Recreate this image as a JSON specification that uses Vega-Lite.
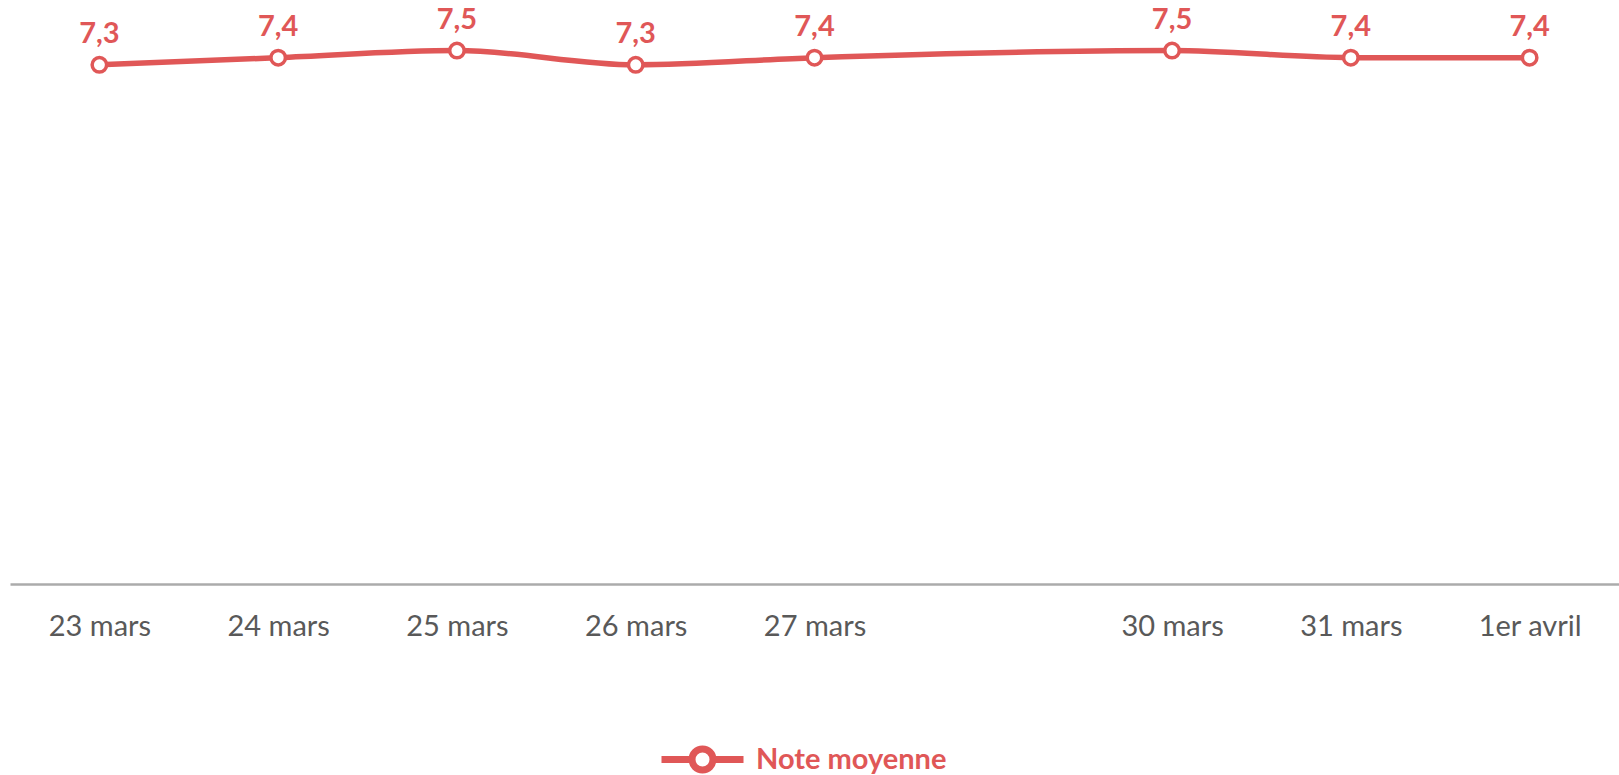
{
  "$schema": "https://vega.github.io/schema/vega-lite/v6.json",
  "autosize": "none",
  "width": 1609,
  "height": 569,
  "padding": {"left": 10, "top": 15, "right": 0, "bottom": 191},
  "background": "white",
  "config": {
    "view": {"stroke": null},
    "font": "Lato",
    "locale": {"number": {"decimal": ",", "thousands": " ", "grouping": [3], "currency": ["", " €"]}}
  },
  "data": {
    "values": [
      {"jour": "23 mars", "note": 7.3, "serie": "Note moyenne"},
      {"jour": "24 mars", "note": 7.4, "serie": "Note moyenne"},
      {"jour": "25 mars", "note": 7.5, "serie": "Note moyenne"},
      {"jour": "26 mars", "note": 7.3, "serie": "Note moyenne"},
      {"jour": "27 mars", "note": 7.4, "serie": "Note moyenne"},
      {"jour": "30 mars", "note": 7.5, "serie": "Note moyenne"},
      {"jour": "31 mars", "note": 7.4, "serie": "Note moyenne"},
      {"jour": "1er avril", "note": 7.4, "serie": "Note moyenne"}
    ]
  },
  "encoding": {
    "x": {
      "field": "jour",
      "type": "ordinal",
      "scale": {"domain": ["23 mars", "24 mars", "25 mars", "26 mars", "27 mars", " ", "30 mars", "31 mars", "1er avril"], "padding": 0.5},
      "axis": {
        "title": null,
        "labelAngle": 0,
        "ticks": false,
        "tickSize": 0,
        "domainColor": "#ABABAB",
        "domainWidth": 2.5,
        "labelColor": "#595959",
        "labelFont": "Lato",
        "labelFontSize": 29,
        "labelBaseline": "alphabetic",
        "labelPadding": 51,
        "grid": false
      }
    },
    "y": {
      "field": "note",
      "type": "quantitative",
      "scale": {"domain": [0, 8], "nice": false},
      "axis": null
    }
  },
  "layer": [
    {
      "mark": {"type": "line", "strokeWidth": 5.5, "interpolate": "monotone"},
      "encoding": {
        "color": {
          "field": "serie",
          "type": "nominal",
          "scale": {"range": ["#E05757"]},
          "legend": {
            "title": null,
            "orient": "none",
            "legendX": 678,
            "legendY": 730,
            "padding": 0,
            "symbolType": "M-5.125,0H-1.31M1.31,0H5.125M-1.31,0A1.31,1.31,0,1,0,1.31,0A1.31,1.31,0,1,0,-1.31,0",
            "symbolSize": 256,
            "symbolStrokeWidth": 7,
            "symbolFillColor": "white",
            "symbolStrokeColor": "#E05757",
            "labelFont": "Lato",
            "labelFontSize": 29,
            "labelFontWeight": "bold",
            "labelColor": "#E05757",
            "labelOffset": 39,
            "labelLimit": 0
          }
        }
      }
    },
    {
      "mark": {"type": "point", "shape": "circle", "filled": true, "fill": "white", "stroke": "#E05757", "strokeWidth": 3.5, "size": 210, "opacity": 1}
    },
    {
      "mark": {"type": "text", "font": "Lato", "fontSize": 29, "fontWeight": "bold", "color": "#E05757", "baseline": "alphabetic", "dy": -22},
      "encoding": {
        "text": {"field": "note", "type": "quantitative", "format": ".1f"}
      }
    }
  ]
}
